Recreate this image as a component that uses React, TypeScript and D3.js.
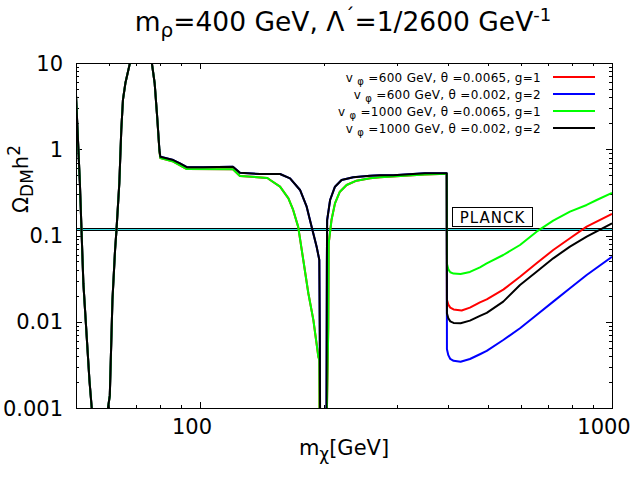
import * as d3 from 'd3';
import React, { useEffect, useRef } from 'react';

const width = 640;
const height = 480;
const margin = { top: 63, right: 28, bottom: 72, left: 76 };

// tick values and labels
const xMajor = [100, 1000];
const xMajorLabels = ['100', '1000'];
const xMinor = [60, 70, 80, 90, 200, 300, 400, 500, 600, 700, 800, 900];
const yMajor = [0.001, 0.01, 0.1, 1, 10];
const yMajorLabels = ['0.001', '0.01', '0.1', '1', '10'];
const yDecades = [0.001, 0.01, 0.1, 1];
const yMinorSteps = [2, 3, 4, 5, 6, 7, 8, 9];

// Planck band for Omega h^2
const planckBand: [number, number] = [0.1158, 0.1222];

// low mass part (m < m_rho), v_phi = 1000 GeV, theta = 0.002, g = 2
const blackLow: [number, number][] = [
    [50, 4.26], [51.1, 0.4], [52.1, 0.028], [53.9, 0.0021], [54.6, 0.001], [55, 0.0005],
    [59.6, 0.0005], [59.8, 0.001], [60.4, 0.0014], [61.3, 0.018], [62.2, 0.068], [62.7, 0.116],
    [63.7, 0.406], [64.4, 1.67], [65.0, 3.73], [65.9, 5.86], [67.5, 9.7], [69, 14], [72, 22],
    [75.5, 14], [76.4, 10], [77.6, 5.86], [78.7, 2.38], [79.7, 0.98], [80.1, 0.82], [86.1, 0.75],
    [89.4, 0.687], [92.9, 0.62], [101.8, 0.62], [120.2, 0.628], [125, 0.535], [139.8, 0.516],
    [156.4, 0.516], [165.4, 0.46], [174.9, 0.337], [181.5, 0.216], [186.6, 0.126], [191.9, 0.074],
    [194.8, 0.052], [195.3, 0.007], [195.7, 0.0005], [202.7, 0.0005], [203.2, 0.05], [203.5, 0.151],
    [206.9, 0.258], [212.6, 0.368], [220.6, 0.44], [235.5, 0.473], [258.7, 0.494], [273.6, 0.5],
    [294.5, 0.5], [351.5, 0.526], [397, 0.526],
];

// low mass part, v_phi = 1000 GeV, theta = 0.0065, g = 1
const greenLow: [number, number][] = [
    [50, 4.26], [51.1, 0.4], [52.1, 0.028], [53.9, 0.0021], [54.6, 0.001], [55, 0.0005],
    [59.6, 0.0005], [59.8, 0.001], [60.4, 0.0014], [61.3, 0.018], [62.2, 0.068], [62.7, 0.116],
    [63.7, 0.406], [64.4, 1.67], [65.0, 3.73], [65.9, 5.86], [67.5, 9.7], [69, 14], [72, 22],
    [75.5, 14], [76.4, 10], [77.6, 5.86], [78.7, 2.38], [79.7, 0.96], [80.1, 0.79], [86.1, 0.72],
    [92.9, 0.59], [120.2, 0.585], [125, 0.49], [137.7, 0.475], [145.7, 0.465], [148, 0.44],
    [156.4, 0.368], [163.9, 0.27], [168.3, 0.198], [173.1, 0.126], [178.1, 0.052], [183.2, 0.0214],
    [188.4, 0.0105], [193.8, 0.0039], [194.8, 0.0036], [195.1, 0.0005], [202.8, 0.0005],
    [204.8, 0.0088], [205.3, 0.081], [208.5, 0.151], [212.6, 0.236], [218.5, 0.322], [226.9, 0.385],
    [239.8, 0.432], [258.7, 0.46], [273.6, 0.473], [351.5, 0.51], [397, 0.52],
];

// above threshold m > m_rho
const redHigh: [number, number][] = [
    [397.5, 0.018], [400.6, 0.0158], [405, 0.0146], [412.5, 0.0139], [431.6, 0.0135], [452, 0.0146],
    [478, 0.0168], [496.5, 0.0182], [544.6, 0.0236], [598, 0.0333], [656, 0.0476], [720, 0.0679],
    [790.6, 0.0928], [868, 0.1265], [1000, 0.1776],
];
const blueHigh: [number, number][] = [
    [397.5, 0.0048], [400.6, 0.0041], [405, 0.0037], [412.5, 0.00352], [429, 0.00343], [452, 0.0037],
    [478, 0.0042], [496.5, 0.0046], [544.6, 0.00614], [598, 0.0084], [656, 0.012], [720, 0.0171],
    [790.6, 0.0244], [868, 0.0348], [1000, 0.0568],
];
const greenHigh: [number, number][] = [
    [397.5, 0.047], [400.6, 0.0405], [405, 0.0375], [412.5, 0.0362], [429, 0.0357], [452, 0.0378],
    [478, 0.0428], [496.5, 0.0476], [544.6, 0.0594], [598, 0.0776], [656, 0.1107], [720, 0.1485],
    [790.6, 0.189], [868, 0.226], [918, 0.258], [1000, 0.311],
];
const blackHigh: [number, number][] = [
    [397.5, 0.0125], [400.6, 0.011], [405, 0.0101], [412.5, 0.0097], [429, 0.0096], [452, 0.0103],
    [478, 0.0117], [496.5, 0.0127], [544.6, 0.0171], [598, 0.0267], [656, 0.038], [720, 0.0544],
    [790.6, 0.0742], [868, 0.0969], [1000, 0.1385],
];

const legendVphi = ['600', '600', '1000', '1000'];
const legendTheta = ['0.0065', '0.002', '0.0065', '0.002'];
const legendG = ['1', '2', '1', '2'];
const colors = ['#ff0000', '#0000ff', '#00ff00', '#000000'];

const series = [
    [...greenLow, ...redHigh],
    [...blackLow, ...blueHigh],
    [...greenLow, ...greenHigh],
    [...blackLow, ...blackHigh],
];

const font = "'DejaVu Sans', sans-serif";

const App = () => {
    const svgRef = useRef<SVGSVGElement | null>(null);

    useEffect(() => {
        const svg = d3.select(svgRef.current);
        svg.selectAll('*').remove();

        const x0 = margin.left;
        const x1 = width - margin.right;
        const y0 = height - margin.bottom;
        const y1 = margin.top;

        const x = d3.scaleLog().domain([50, 1000]).range([x0, x1]);
        const y = d3.scaleLog().domain([0.001, 10]).range([y0, y1]);

        svg.append('rect').attr('width', width).attr('height', height).attr('fill', '#fff');

        svg.append('defs')
            .append('clipPath')
            .attr('id', 'plot-clip')
            .append('rect')
            .attr('x', x0)
            .attr('y', y1)
            .attr('width', x1 - x0)
            .attr('height', y0 - y1);

        // ticks, inward on all sides
        const ticks = svg.append('g').attr('stroke', '#000').attr('stroke-width', 1);
        const xTick = (v: number, len: number) => {
            const px = Math.round(x(v)) + 0.5;
            ticks.append('line').attr('x1', px).attr('x2', px).attr('y1', y0).attr('y2', y0 - len);
            ticks.append('line').attr('x1', px).attr('x2', px).attr('y1', y1).attr('y2', y1 + len);
        };
        const yTick = (v: number, len: number) => {
            const py = Math.round(y(v)) + 0.5;
            ticks.append('line').attr('x1', x0).attr('x2', x0 + len).attr('y1', py).attr('y2', py);
            ticks.append('line').attr('x1', x1).attr('x2', x1 - len).attr('y1', py).attr('y2', py);
        };
        xMajor.forEach((v) => xTick(v, 6));
        xMinor.forEach((v) => xTick(v, 3));
        yMajor.forEach((v) => yTick(v, 6));
        yDecades.forEach((d) => yMinorSteps.forEach((k) => yTick(d * k, 3)));

        // tick labels
        svg.append('g')
            .selectAll('text')
            .data(xMajor)
            .join('text')
            .attr('x', (d) => x(d) - 8)
            .attr('y', 434)
            .attr('text-anchor', 'middle')
            .attr('font-family', font)
            .attr('font-size', 21)
            .text((d, i) => xMajorLabels[i]);

        svg.append('g')
            .selectAll('text')
            .data(yMajor)
            .join('text')
            .attr('x', 63)
            .attr('y', (d) => y(d) + 7.5)
            .attr('text-anchor', 'end')
            .attr('font-family', font)
            .attr('font-size', 21)
            .text((d, i) => yMajorLabels[i]);

        // Planck band: two black lines with cyan between
        const band = svg.append('g');
        const bandTop = Math.round(y(planckBand[1]));
        const bandBottom = Math.round(y(planckBand[0]));
        band.append('rect')
            .attr('x', x0)
            .attr('width', x1 - x0)
            .attr('y', bandTop + 1)
            .attr('height', bandBottom - bandTop - 1)
            .attr('fill', '#33dde6');
        [bandTop, bandBottom].forEach((py) =>
            band.append('line')
                .attr('x1', x0)
                .attr('x2', x1)
                .attr('y1', py + 0.5)
                .attr('y2', py + 0.5)
                .attr('stroke', '#000')
                .attr('stroke-width', 1),
        );

        // curves
        const line = d3
            .line<[number, number]>()
            .x((d) => x(d[0]))
            .y((d) => y(d[1]));
        svg.append('g')
            .attr('clip-path', 'url(#plot-clip)')
            .selectAll('path')
            .data(series)
            .join('path')
            .attr('d', (d) => line(d))
            .attr('fill', 'none')
            .attr('stroke', (d, i) => colors[i])
            .attr('stroke-width', 2)
            .attr('stroke-linejoin', 'round');

        // frame
        svg.append('rect')
            .attr('x', x0 + 0.5)
            .attr('y', y1 + 0.5)
            .attr('width', x1 - x0)
            .attr('height', y0 - y1)
            .attr('fill', 'none')
            .attr('stroke', '#000')
            .attr('stroke-width', 1);

        // PLANCK label
        svg.append('rect')
            .attr('x', 452.5)
            .attr('y', 207.5)
            .attr('width', 80)
            .attr('height', 19)
            .attr('fill', '#fff')
            .attr('stroke', '#000');
        svg.append('text')
            .attr('x', 492.5)
            .attr('y', 223)
            .attr('text-anchor', 'middle')
            .attr('font-family', font)
            .attr('font-size', 15)
            .attr('letter-spacing', 1)
            .text('PLANCK');

        // legend
        const legend = svg.append('g').attr('font-family', font).attr('font-size', 12);
        legendVphi.forEach((vphi, i) => {
            const ry = 77 + i * 17;
            const t = legend.append('text')
                .attr('x', 541)
                .attr('y', ry + 4.5)
                .attr('text-anchor', 'end')
                .attr('letter-spacing', 0.3);
            t.append('tspan').text('v ');
            t.append('tspan').attr('dy', 3).attr('font-size', 10).text('φ');
            t.append('tspan').attr('dy', -3).text(` =${vphi} GeV, θ =${legendTheta[i]}, g=${legendG[i]}`);
            legend.append('line')
                .attr('x1', 553)
                .attr('x2', 595)
                .attr('y1', ry)
                .attr('y2', ry)
                .attr('stroke', colors[i])
                .attr('stroke-width', 2);
        });

        // title
        const title = svg.append('text')
            .attr('x', 343)
            .attr('y', 31)
            .attr('text-anchor', 'middle')
            .attr('font-family', font)
            .attr('font-size', 26.5);
        title.append('tspan').text('m');
        title.append('tspan').attr('dy', 6).attr('font-size', 20).text('ρ');
        title.append('tspan').attr('dy', -6).text('=400 GeV, Λ');
        title.append('tspan').attr('dy', -9).attr('font-size', 20).text('´');
        title.append('tspan').attr('dy', 9).text('=1/2600 GeV');
        title.append('tspan').attr('dy', -10).attr('font-size', 18).text('-1');

        // axis labels
        const xl = svg.append('text')
            .attr('x', 344)
            .attr('y', 455)
            .attr('text-anchor', 'middle')
            .attr('font-family', font)
            .attr('font-size', 21);
        xl.append('tspan').text('m');
        xl.append('tspan').attr('dy', 5).attr('font-size', 17).text('χ');
        xl.append('tspan').attr('dy', -5).text('[GeV]');

        const yl = svg.append('text')
            .attr('transform', 'translate(28,179) rotate(-90)')
            .attr('text-anchor', 'middle')
            .attr('font-family', font)
            .attr('font-size', 21);
        yl.append('tspan').text('Ω');
        yl.append('tspan').attr('dy', 5).attr('font-size', 17).text('DM');
        yl.append('tspan').attr('dy', -5).text('h');
        yl.append('tspan').attr('dy', -8).attr('font-size', 17).text('2');
    }, []);

    return (
        <svg
            ref={svgRef}
            width={width}
            height={height}
            style={{ position: 'absolute', left: 0, top: 0 }}
        />
    );
};

export default App;
